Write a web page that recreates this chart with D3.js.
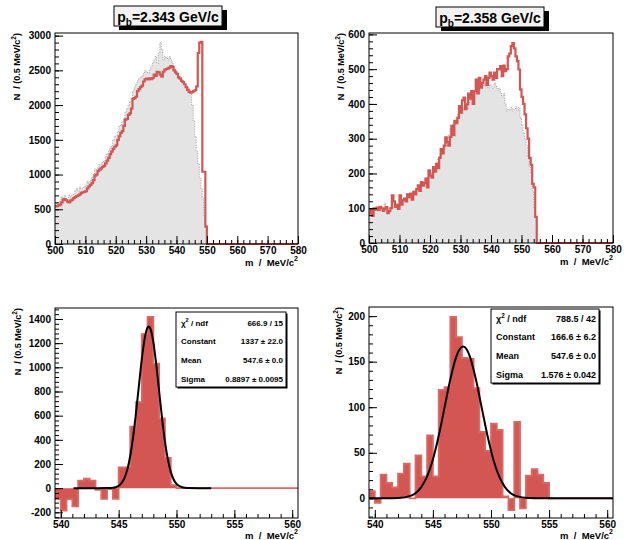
<!DOCTYPE html>
<html>
<head>
<meta charset="utf-8">
<script src="https://cdn.jsdelivr.net/npm/d3@7"></script>
<style>
body { margin: 0; background: #fff; }
svg text { font-family: "Liberation Sans", Arial, sans-serif; font-weight: bold; }
</style>
</head>
<body>
<div id="chart"></div>
<script>
// top histograms: 0.5 MeV bins starting at 500 MeV/c^2 (zero above the last listed bin)
const topBinStart = 500, binWidth = 0.5;
const tlRed = [
  540, 545, 555, 565, 600, 640, 645, 630, 610, 600,
  625, 640, 660, 675, 690, 700, 715, 735, 745, 750,
  760, 800, 830, 850, 875, 920, 985, 1000, 1050, 1070,
  1090, 1110, 1125, 1160, 1200, 1240, 1290, 1330, 1370, 1400,
  1420, 1500, 1550, 1600, 1625, 1700, 1790, 1800, 1860, 1880,
  1950, 2090, 2100, 2120, 2200, 2230, 2260, 2280, 2340, 2370,
  2380, 2370, 2385, 2375, 2390, 2440, 2420, 2480, 2470, 2440,
  2410, 2480, 2510, 2520, 2530, 2540, 2560, 2550, 2500, 2470,
  2450, 2400, 2380, 2350, 2330, 2300, 2260, 2220, 2190, 2180,
  2185, 2200, 2215, 2270, 2750, 2900, 2910, 1040, 1040, 250
];
const tlGrey = [
  560, 600, 570, 620, 680, 660, 700, 640, 630, 700,
  680, 700, 720, 770, 800, 760, 820, 790, 800, 830,
  850, 900, 880, 920, 960, 1000, 1080, 1070, 1100, 1150,
  1150, 1180, 1200, 1260, 1300, 1330, 1380, 1420, 1500, 1550,
  1560, 1620, 1700, 1720, 1760, 1800, 1900, 1950, 2000, 2050,
  2100, 2200, 2250, 2300, 2350, 2380, 2400, 2420, 2450, 2500,
  2480, 2460, 2500, 2550, 2600, 2650, 2700, 2600, 2750, 2900,
  2800, 2650, 2700, 2680, 2650, 2700, 2650, 2600, 2550, 2500,
  2450, 2420, 2380, 2360, 2330, 2300, 2280, 2250, 2230, 2200,
  2000, 1760, 1550, 1330, 1150, 950, 800, 660, 400, 270
];
const trRed = [
  85, 95, 78, 100, 96, 102, 95, 104, 100, 92,
  99, 103, 86, 92, 100, 137, 120, 104, 110, 98,
  137, 110, 123, 128, 120, 140, 132, 142, 125, 147,
  140, 155, 166, 150, 175, 165, 172, 185, 160, 209,
  194, 188, 218, 205, 228, 215, 245, 270, 258, 280,
  304, 290, 280, 305, 337, 310, 351, 345, 360, 394,
  375, 410, 418, 385, 399, 430, 415, 437, 400, 437,
  470, 430, 475, 447, 460, 470, 480, 455, 475, 490,
  480, 470, 490, 475, 500, 499, 509, 480, 510, 494,
  500, 537, 545, 566, 575, 560, 537, 523, 499, 442,
  420, 400, 370, 330, 300, 245, 225, 170, 160, 75
];
const trGrey = [
  80, 88, 85, 92, 95, 98, 92, 100, 98, 95,
  115, 105, 95, 100, 104, 110, 115, 108, 112, 110,
  120, 118, 125, 130, 128, 135, 138, 140, 142, 145,
  150, 152, 158, 160, 165, 170, 175, 180, 190, 200,
  195, 205, 210, 215, 230, 240, 250, 255, 262, 270,
  280, 300, 310, 330, 335, 345, 350, 360, 370, 380,
  378, 385, 390, 395, 385, 400, 410, 420, 415, 430,
  435, 440, 445, 440, 450, 455, 450, 460, 445, 455,
  450, 445, 460, 450, 440, 445, 430, 420, 430, 400,
  380, 385, 382, 390, 380, 385, 392, 380, 390, 360,
  340, 317, 300, 280, 250, 220, 200, 150, 100, 75
];

// bottom histograms: 0.5 MeV bins starting at 539.5 MeV/c^2
const bottomBinStart = 539.5;
const blCounts = [
  -90, -185, -90, -150, 63, 78, 63, -15, -88, -8,
  -88, 172, 172, 510, 712, 1275, 1418, 1030, 578, 250,
  25, 0, 0, 0, 0, 0, 0, 0, 0, 0,
  0, 0, 0, 0, 0, 0, 0, 0, 0, 0, 0, 0
];
const brCounts = [
  8, -5, 26, 17, 12, 27, 38, 0, 47, 24,
  69, 24, 119, 122, 199, 177, 154, 153, 121, 73,
  52, 82, 75, 2, -13, 84, -11, 25, 32, 26,
  17, 0, 0, 0, 0, 0, 0, 0, 0, 0, 0, 0
];

// gaussian fit curves
const blFitX = [541.1, 543, 544, 544.5, 544.75, 545, 545.25, 545.5, 545.75, 546, 546.25, 546.5, 546.75, 547, 547.25, 547.5, 547.6, 547.75, 548, 548.25, 548.5, 548.75, 549, 549.25, 549.5, 549.75, 550, 550.25, 550.5, 550.75, 551, 552, 553];
const blFitY = [0, 0, 0.4, 3, 8, 19, 41, 83, 154, 266, 423, 623, 847, 1066, 1237, 1329, 1337, 1318, 1209, 1024, 802, 580, 388, 240, 137, 72, 35, 16, 7, 3, 1, 0, 0];
const brFitX = [539.5, 541, 542, 543, 543.5, 544, 544.5, 545, 545.5, 546, 546.5, 547, 547.3, 547.6, 547.9, 548.2, 548.7, 549.2, 549.7, 550.2, 550.7, 551.2, 551.7, 552.2, 553.2, 554.5, 556, 560.5];
const brFitY = [0, 0, 0.3, 2.4, 5.6, 12.3, 24, 42.7, 68.6, 99.5, 130.6, 155, 163.6, 166.6, 163.6, 155, 130.6, 99.5, 68.6, 42.7, 24, 12.3, 5.6, 2.4, 0.3, 0, 0, 0];

// tick labels and texts
const topXTicks = [500, 510, 520, 530, 540, 550, 560, 570, 580];
const tlYTicks = [0, 500, 1000, 1500, 2000, 2500, 3000];
const trYTicks = [0, 100, 200, 300, 400, 500, 600];
const bottomXTicks = [540, 545, 550, 555, 560];
const blYTicks = [-200, 0, 200, 400, 600, 800, 1000, 1200, 1400];
const brYTicks = [0, 50, 100, 150, 200];
const titles = ['=2.343 GeV/c', '=2.358 GeV/c'];
const statNames = ['Constant', 'Mean', 'Sigma'];
const blStats = ['666.9 / 15', '1337 \u00b1 22.0', '547.6 \u00b1 0.0', '0.8897 \u00b1 0.0095'];
const brStats = ['788.5 / 42', '166.6 \u00b1 6.2', '547.6 \u00b1 0.0', '1.576 \u00b1 0.042'];

const red = '#d45652';
const width = 628, height = 540;

var svg = d3.select('#chart')
  .append('svg')
  .attr('width', width)
  .attr('height', height);

svg.append('rect').attr('width', width).attr('height', height).attr('fill', '#fff');

function pad(values, n) {
  let out = values.slice();
  while (out.length < n) out.push(0);
  return out;
}

function stepLine(values, start, w, x, y) {
  let p = d3.path();
  p.moveTo(x(start), y(values[0]));
  values.forEach(function (v, i) {
    p.lineTo(x(start + i * w), y(v));
    p.lineTo(x(start + (i + 1) * w), y(v));
  });
  return p.toString();
}

function stepArea(values, start, w, x, y) {
  let p = d3.path();
  p.moveTo(x(start), y(0));
  values.forEach(function (v, i) {
    p.lineTo(x(start + i * w), y(v));
    p.lineTo(x(start + (i + 1) * w), y(v));
  });
  p.lineTo(x(start + values.length * w), y(0));
  p.closePath();
  return p.toString();
}

let clipId = 0;
function makePanel(f, xDom, yDom) {
  let x = d3.scaleLinear().domain(xDom).range([f.x0, f.x1]);
  let y = d3.scaleLinear().domain(yDom).range([f.y1, f.y0]);
  clipId++;
  svg.append('clipPath').attr('id', 'clip' + clipId)
    .append('rect')
    .attr('x', f.x0).attr('y', f.y0 - 1)
    .attr('width', f.x1 - f.x0).attr('height', f.y1 - f.y0 + 2);
  let g = svg.append('g').attr('clip-path', 'url(#clip' + clipId + ')');
  return { x: x, y: y, g: g, f: f };
}

function drawAxes(p, xTicks, xMinor, yTicks, yMinor) {
  let f = p.f;
  let fmt = function (d) { return String(d); };
  let ax = svg.append('g');
  ax.append('g').attr('transform', 'translate(0,' + f.y1 + ')')
    .call(d3.axisBottom(p.x).tickValues(xMinor).tickSize(-4).tickFormat(''));
  ax.append('g').attr('transform', 'translate(0,' + f.y1 + ')')
    .call(d3.axisBottom(p.x).tickValues(xTicks).tickSize(-8).tickPadding(3).tickFormat(fmt));
  ax.append('g').attr('transform', 'translate(' + f.x0 + ',0)')
    .call(d3.axisLeft(p.y).tickValues(yMinor).tickSize(-4).tickFormat(''));
  ax.append('g').attr('transform', 'translate(' + f.x0 + ',0)')
    .call(d3.axisLeft(p.y).tickValues(yTicks).tickSize(-8).tickPadding(4).tickFormat(fmt));
  ax.selectAll('.domain').remove();
  ax.selectAll('text')
    .attr('font-size', 10)
    .attr('font-family', '"Liberation Sans", Arial, sans-serif')
    .attr('font-weight', 'bold')
    .attr('fill', '#000');
  svg.append('rect')
    .attr('x', f.x0).attr('y', f.y0)
    .attr('width', f.x1 - f.x0).attr('height', f.y1 - f.y0)
    .attr('fill', 'none').attr('stroke', '#000').attr('stroke-width', 1);
}

function axisTitles(f, yx, xOff) {
  let yt = svg.append('text')
    .attr('transform', 'translate(' + yx + ',' + f.y0 + ') rotate(-90)')
    .attr('text-anchor', 'end')
    .attr('font-size', 9)
    .style('white-space', 'pre');
  yt.append('tspan').text('N  / (0.5 MeV/c');
  yt.append('tspan').attr('dy', -4).attr('font-size', 6.5).text('2');
  yt.append('tspan').attr('dy', 4).text(')');

  let xt = svg.append('text')
    .attr('x', f.x1).attr('y', f.y1 + xOff)
    .attr('text-anchor', 'end')
    .attr('font-size', 9.5)
    .style('white-space', 'pre');
  xt.append('tspan').text('m  /  MeV/c');
  xt.append('tspan').attr('dy', -5).attr('font-size', 7).text('2');
}

function titleBox(cx, y0, label) {
  let w = 108, h = 20;
  svg.append('rect').attr('x', cx - w / 2 + 5).attr('y', y0 + 4)
    .attr('width', w).attr('height', h).attr('fill', '#000');
  svg.append('rect').attr('x', cx - w / 2).attr('y', y0)
    .attr('width', w).attr('height', h)
    .attr('fill', '#f2f2f2').attr('stroke', '#000').attr('stroke-width', 1);
  let t = svg.append('text').attr('x', cx).attr('y', y0 + 16)
    .attr('text-anchor', 'middle').attr('font-size', 14);
  t.append('tspan').text('p');
  t.append('tspan').attr('dy', 4).attr('font-size', 10).text('b');
  t.append('tspan').attr('dy', -4).text(label);
}

function statBox(b, values) {
  svg.append('rect').attr('x', b.x + 1.5).attr('y', b.y + 1.5)
    .attr('width', b.w).attr('height', b.h).attr('fill', '#000');
  svg.append('rect').attr('x', b.x).attr('y', b.y)
    .attr('width', b.w).attr('height', b.h)
    .attr('fill', '#fff').attr('stroke', '#000').attr('stroke-width', 1);
  let first = svg.append('text').attr('x', b.x + 5).attr('y', b.rows[0]).attr('font-size', b.fs);
  first.append('tspan').text('\u03c7');
  first.append('tspan').attr('dy', -3.5).attr('font-size', b.fs * 0.7).text('2');
  first.append('tspan').attr('dy', 3.5).style('white-space', 'pre').text(' / ndf');
  statNames.forEach(function (n, i) {
    svg.append('text').attr('x', b.x + 5).attr('y', b.rows[i + 1])
      .attr('font-size', b.fs).text(n);
  });
  values.forEach(function (v, i) {
    svg.append('text').attr('x', b.x + b.w - 3).attr('y', b.rows[i])
      .attr('text-anchor', 'end').attr('font-size', b.fs).text(v);
  });
}

// ---- top left ----
let tl = makePanel({ x0: 55, x1: 298, y0: 33, y1: 244 }, [500, 580], [0, 3038]);
tl.g.append('path').attr('d', stepArea(tlGrey, topBinStart, binWidth, tl.x, tl.y)).attr('fill', '#e4e4e4');
tl.g.append('path').attr('d', stepLine(tlGrey, topBinStart, binWidth, tl.x, tl.y) + 'L' + tl.x(550) + ',' + tl.y(0))
  .attr('fill', 'none').attr('stroke', '#8c8c8c').attr('stroke-width', 0.8).attr('stroke-dasharray', '1,1.5');
tl.g.append('path').attr('d', stepLine(pad(tlRed, 160), topBinStart, binWidth, tl.x, tl.y))
  .attr('fill', 'none').attr('stroke', red).attr('stroke-width', 2.2);
drawAxes(tl, topXTicks, d3.range(500, 580.1, 2), tlYTicks, d3.range(0, 3001, 100));
axisTitles(tl.f, 20, 22);
titleBox(168, 6, titles[0]);

// ---- top right ----
let tr = makePanel({ x0: 369, x1: 613, y0: 33, y1: 243 }, [500, 580], [0, 604]);
tr.g.append('path').attr('d', stepArea(trGrey, topBinStart, binWidth, tr.x, tr.y)).attr('fill', '#e4e4e4');
tr.g.append('path').attr('d', stepLine(trGrey, topBinStart, binWidth, tr.x, tr.y) + 'L' + tr.x(555) + ',' + tr.y(0))
  .attr('fill', 'none').attr('stroke', '#8c8c8c').attr('stroke-width', 0.8).attr('stroke-dasharray', '1,1.5');
tr.g.append('path').attr('d', stepLine(pad(trRed, 160), topBinStart, binWidth, tr.x, tr.y))
  .attr('fill', 'none').attr('stroke', red).attr('stroke-width', 2.2);
drawAxes(tr, topXTicks, d3.range(500, 580.1, 2), trYTicks, d3.range(0, 601, 20));
axisTitles(tr.f, 344, 22);
titleBox(490, 7, titles[1]);

// ---- bottom panels ----
function fitPanel(p, counts, fitX, fitY) {
  p.g.append('path').attr('d', stepArea(counts, bottomBinStart, binWidth, p.x, p.y))
    .attr('fill', red);
  p.g.append('path').attr('d', stepLine(counts, bottomBinStart, binWidth, p.x, p.y))
    .attr('fill', 'none').attr('stroke', '#da6a66').attr('stroke-width', 1.8);
  let line = d3.line()
    .x(function (d) { return p.x(d[0]); })
    .y(function (d) { return p.y(d[1]); })
    .curve(d3.curveMonotoneX);
  p.g.append('path').attr('d', line(d3.zip(fitX, fitY)))
    .attr('fill', 'none').attr('stroke', '#000').attr('stroke-width', 2);
}

let bl = makePanel({ x0: 55, x1: 298, y0: 308, y1: 518 }, [539.5, 560.5], [-247, 1491]);
fitPanel(bl, blCounts, blFitX, blFitY);
drawAxes(bl, bottomXTicks, d3.range(540, 560.1, 1), blYTicks, d3.range(-240, 1481, 40));
axisTitles(bl.f, 21, 21);
statBox({ x: 176, y: 312, w: 110, h: 75, fs: 8, rows: [325.5, 344, 363, 382] }, blStats);

let br = makePanel({ x0: 369, x1: 613, y0: 307, y1: 518 }, [539.5, 560.5], [-21.6, 210]);
fitPanel(br, brCounts, brFitX, brFitY);
drawAxes(br, bottomXTicks, d3.range(540, 560.1, 1), brYTicks, d3.range(-20, 201, 10));
axisTitles(br.f, 342, 21);
statBox({ x: 491, y: 309, w: 108, h: 74, fs: 9, rows: [321.5, 339.5, 358.5, 377.5] }, brStats);
</script>
</body>
</html>
